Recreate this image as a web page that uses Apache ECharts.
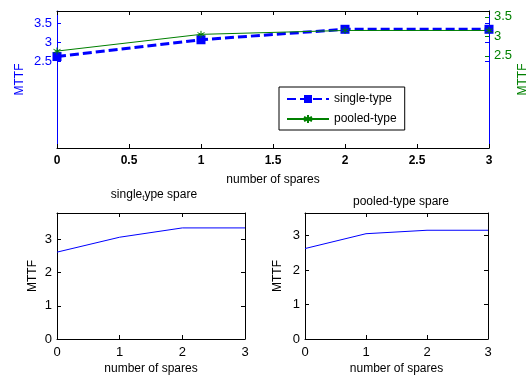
<!DOCTYPE html>
<html>
<head>
<meta charset="utf-8">
<script src="https://cdn.jsdelivr.net/npm/echarts@6/dist/echarts.min.js"></script>
<style>
  html, body { margin: 0; padding: 0; background: #fff; }
  #chart { width: 531px; height: 376px; }
</style>
</head>
<body>
<div id="chart"></div>
<script>
    'use strict';

    // number of spares on x
    var spares = [0, 1, 2, 3];
    // MTTF values
    var singleType = [2.62, 3.07, 3.35, 3.35];
    var pooledType = [2.62, 3.05, 3.15, 3.15];
    // tick labels
    var topYTicks = [2.5, 3, 3.5];
    var bottomYTicks = [0, 1, 2, 3];

    var FONT = 'Liberation Sans';
    var BLUE = '#0000ff';
    var GREEN = '#008000';

    function pairs(ys) {
        return spares.map(function (x, i) { return [x, ys[i]]; });
    }

    function xAxisBox(gridIndex, position, interval, withLabels, labelStyle, nameGap) {
        var ax = {
            type: 'value', gridIndex: gridIndex, position: position,
            min: 0, max: 3, interval: interval,
            axisLine: { show: true, onZero: false, lineStyle: { color: '#000', width: 1 } },
            axisTick: { show: true, inside: true, length: 4, lineStyle: { color: '#000' } },
            axisLabel: { show: withLabels },
            splitLine: { show: false }
        };
        if (withLabels) {
            ax.axisLabel = Object.assign({ show: true, color: '#000', fontFamily: FONT, margin: 7 }, labelStyle);
            ax.name = 'number of spares';
            ax.nameLocation = 'middle';
            ax.nameGap = nameGap;
            ax.nameTextStyle = { color: '#000', fontFamily: FONT, fontSize: 12 };
        }
        return ax;
    }

    function yAxisBox(gridIndex, position, min, max, ticks, color, withLabels, name, nameGap, noMove) {
        var ax = {
            type: 'value', gridIndex: gridIndex, position: position,
            min: min, max: max,
            axisLine: { show: true, onZero: false, lineStyle: { color: color, width: 1 } },
            axisTick: { show: true, inside: true, length: 4, customValues: ticks, lineStyle: { color: color } },
            axisLabel: { show: withLabels, customValues: ticks, color: color, fontFamily: FONT, fontSize: 13, margin: 5 },
            splitLine: { show: false }
        };
        if (name) {
            ax.name = name;
            ax.nameLocation = 'middle';
            ax.nameGap = nameGap;
            ax.nameTextStyle = { color: color, fontFamily: FONT, fontSize: 12 };
            if (noMove) {
                ax.nameMoveOverlap = false;
            }
        }
        return ax;
    }

    var asterisk = 'path://M0,-5L0,5M-4.33,-2.5L4.33,2.5M-4.33,2.5L4.33,-2.5';

    var option = {
        animation: false,
        backgroundColor: '#fff',
        title: [{
            text: '{a|single}{b|t}{a|ype spare}',
            left: 149, top: 182, textAlign: 'center',
            textStyle: {
                fontWeight: 'normal',
                rich: {
                    a: { fontFamily: FONT, fontSize: 12, fontWeight: 'normal', color: '#000' },
                    b: { fontFamily: FONT, fontSize: 8, fontWeight: 'normal', color: '#000', padding: [7, 0, 0, 0] }
                }
            }
        }, {
            text: 'pooled-type spare',
            left: 396, top: 191, textAlign: 'center',
            textStyle: { fontFamily: FONT, fontSize: 12, fontWeight: 'normal', color: '#000' }
        }],
        legend: {
            data: ['single-type', 'pooled-type'],
            orient: 'vertical',
            left: 279, top: 87,
            itemWidth: 42, itemHeight: 10, itemGap: 8,
            padding: [6, 8, 5, 7],
            borderColor: '#000', borderWidth: 1,
            backgroundColor: '#fff',
            textStyle: { fontFamily: FONT, fontSize: 12, color: '#000' }
        },
        grid: [
            { left: 57, right: 42, top: 11, bottom: 228, outerBoundsMode: 'none' },
            { left: 57, width: 188, top: 213, bottom: 37, outerBoundsMode: 'none' },
            { left: 305, width: 183, top: 213, bottom: 37, outerBoundsMode: 'none' }
        ],
        xAxis: [
            xAxisBox(0, 'bottom', 0.5, true, { fontSize: 12, fontWeight: 'bold' }, 26),
            xAxisBox(0, 'top', 0.5, false),
            xAxisBox(1, 'bottom', 1, true, { fontSize: 13 }, 24),
            xAxisBox(1, 'top', 1, false),
            xAxisBox(2, 'bottom', 1, true, { fontSize: 13 }, 24),
            xAxisBox(2, 'top', 1, false)
        ],
        yAxis: [
            yAxisBox(0, 'left', 0.17, 3.84, topYTicks, BLUE, true, 'MTTF', 31, true),
            yAxisBox(0, 'right', 0.13, 3.65, topYTicks, GREEN, true, 'MTTF', 28, true),
            yAxisBox(0, 'right', 0.17, 3.84, topYTicks, BLUE, false),
            yAxisBox(1, 'left', 0, 3.8, bottomYTicks, '#000', true, 'MTTF', 18),
            yAxisBox(1, 'right', 0, 3.8, bottomYTicks, '#000', false),
            yAxisBox(2, 'left', 0, 3.65, bottomYTicks, '#000', true, 'MTTF', 21),
            yAxisBox(2, 'right', 0, 3.65, bottomYTicks, '#000', false)
        ],
        series: [{
            name: 'single-type', type: 'line', xAxisIndex: 0, yAxisIndex: 0,
            data: pairs(singleType),
            symbol: 'rect', symbolSize: 9,
            lineStyle: { color: BLUE, width: 3, type: [9, 4] },
            itemStyle: { color: BLUE }
        }, {
            name: 'pooled-type', type: 'line', xAxisIndex: 0, yAxisIndex: 1,
            data: pairs(pooledType),
            symbol: asterisk, symbolSize: 7,
            lineStyle: { color: GREEN, width: 1 },
            itemStyle: { color: GREEN, borderColor: GREEN, borderWidth: 1 }
        }, {
            name: 'single-type spare', type: 'line', xAxisIndex: 2, yAxisIndex: 3,
            data: pairs(singleType), showSymbol: false, symbol: 'none',
            lineStyle: { color: BLUE, width: 1 }
        }, {
            name: 'pooled-type spare', type: 'line', xAxisIndex: 4, yAxisIndex: 5,
            data: pairs(pooledType), showSymbol: false, symbol: 'none',
            lineStyle: { color: BLUE, width: 1 }
        }]
    };

    var chart = echarts.init(document.getElementById('chart'), null, { renderer: 'canvas' });
    chart.setOption(option);
</script>
</body>
</html>
